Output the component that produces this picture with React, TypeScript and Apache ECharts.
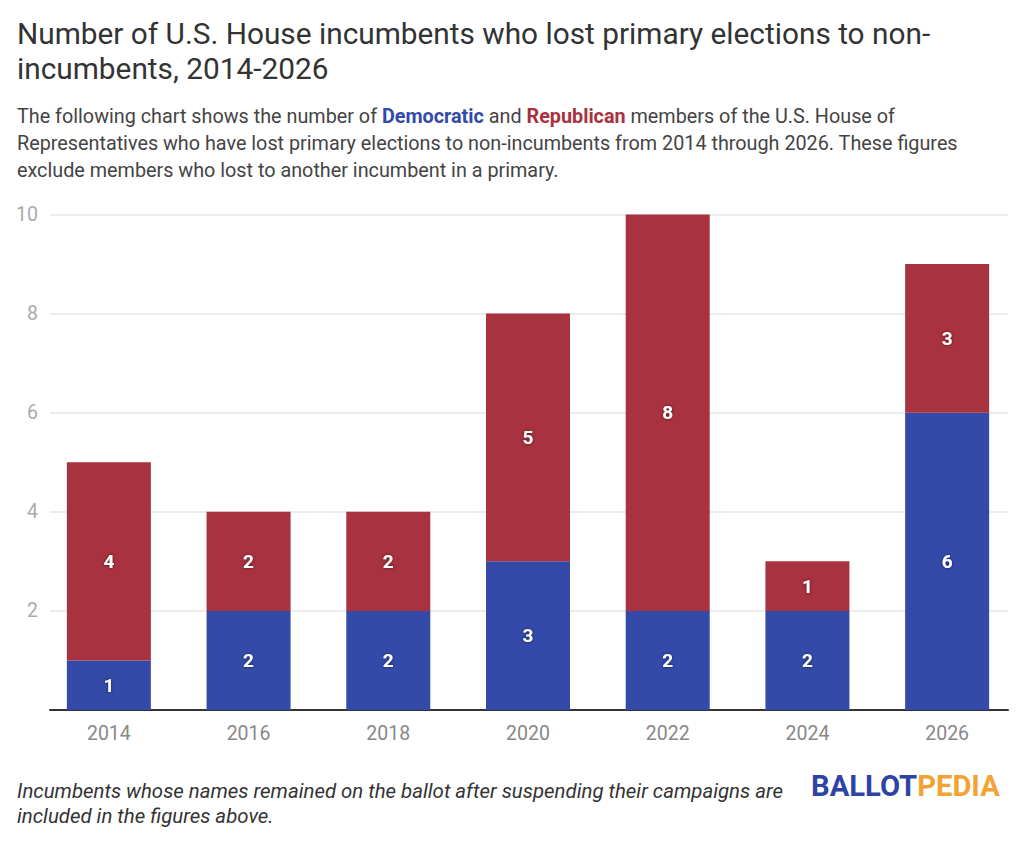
import { useEffect, useRef } from 'react';
import * as echarts from 'echarts';

const years = ['2014', '2016', '2018', '2020', '2022', '2024', '2026'];
const democratic = [1, 2, 2, 3, 2, 2, 6];
const republican = [4, 2, 2, 5, 8, 1, 3];
const yTicks = [0, 2, 4, 6, 8, 10];

const FONT = 'Roboto, "Noto Sans", sans-serif';
const BLUE = '#334aa8';
const RED = '#a8323f';

export default function App() {
  const chartRef = useRef<HTMLDivElement>(null);

  useEffect(() => {
    if (!chartRef.current) return;
    const chart = echarts.init(chartRef.current, undefined, { renderer: 'svg' });

    const barLabel = {
      show: true,
      position: 'inside' as const,
      color: '#fff',
      fontFamily: FONT,
      fontWeight: 'bold' as const,
      fontSize: 19,
      textShadowColor: 'rgba(0,0,0,0.6)',
      textShadowBlur: 3,
    };

    const yMin = yTicks[0];
    const yMax = yTicks[yTicks.length - 1];

    const option: echarts.EChartsOption = {
      animation: false,
      backgroundColor: '#fff',
      textStyle: { fontFamily: FONT },
      title: {
        text: 'Number of U.S. House incumbents who lost primary elections to non-\nincumbents, 2014-2026',
        left: 12,
        top: 11,
        textStyle: {
          color: '#333',
          fontSize: 29.8,
          fontWeight: 'normal',
          lineHeight: 35,
          fontFamily: FONT,
        },
      },
      graphic: [
        {
          type: 'text',
          left: 17,
          top: 103,
          style: {
            text:
              'The following chart shows the number of {d|Democratic} and {r|Republican} members of the U.S. House of\nRepresentatives who have lost primary elections to non-incumbents from 2014 through 2026. These figures\nexclude members who lost to another incumbent in a primary.',
            fill: '#444',
            font: `19.8px ${FONT}`,
            lineHeight: 27,
            rich: {
              d: { fill: BLUE, fontWeight: 'bold', fontSize: 19.8, fontFamily: FONT, lineHeight: 27 },
              r: { fill: RED, fontWeight: 'bold', fontSize: 19.8, fontFamily: FONT, lineHeight: 27 },
            },
          },
        },
        {
          type: 'text',
          left: 17,
          top: 778,
          style: {
            text: 'Incumbents whose names remained on the ballot after suspending their campaigns are\nincluded in the figures above.',
            fill: '#333',
            font: `italic 20.4px ${FONT}`,
            lineHeight: 25,
          },
        },
        {
          type: 'text',
          left: 811,
          top: 771,
          style: {
            text: '{a|BALLOT}{b|PEDIA}',
            rich: {
              a: { fill: '#2d44a6', fontWeight: 'bold', fontSize: 29.2, fontFamily: FONT },
              b: { fill: '#f3a333', fontWeight: 'bold', fontSize: 29.2, fontFamily: FONT },
            },
          },
        },
      ],
      grid: [
        // gridlines, value labels and baseline
        { left: 50, right: 16, top: 214.5, bottom: 134 },
        // bars and year labels
        { left: 39, right: 7, top: 214.5, bottom: 134 },
      ],
      xAxis: [
        {
          type: 'value',
          gridIndex: 0,
          min: 0,
          max: 1,
          splitLine: { show: false },
          axisTick: { show: false },
          axisLabel: { show: false },
          axisLine: { show: true, onZero: false, lineStyle: { color: '#333', width: 2 } },
        },
        {
          type: 'category',
          gridIndex: 1,
          data: years,
          axisLine: { show: false },
          axisTick: { show: false },
          axisLabel: { color: '#888', fontSize: 19.5, margin: 13, fontFamily: FONT },
        },
      ],
      yAxis: [
        {
          type: 'value',
          gridIndex: 0,
          min: yMin,
          max: yMax,
          interval: 2,
          axisLine: { show: false },
          axisTick: { show: false },
          axisLabel: {
            color: '#aaa',
            fontSize: 19.5,
            margin: 12,
            fontFamily: FONT,
            formatter: (v: number) => (v === 0 ? '' : String(v)),
          },
          splitLine: { lineStyle: { color: '#e6e6e6', width: 1.5 } },
        },
        {
          type: 'value',
          gridIndex: 1,
          min: yMin,
          max: yMax,
          interval: 2,
          axisLine: { show: false },
          axisTick: { show: false },
          axisLabel: { show: false },
          splitLine: { show: false },
        },
      ],
      series: [
        {
          name: 'Democratic',
          type: 'bar',
          stack: 'total',
          xAxisIndex: 1,
          yAxisIndex: 1,
          barWidth: 84,
          data: democratic,
          itemStyle: { color: BLUE },
          label: barLabel,
        },
        {
          name: 'Republican',
          type: 'bar',
          stack: 'total',
          xAxisIndex: 1,
          yAxisIndex: 1,
          barWidth: 84,
          data: republican,
          itemStyle: { color: RED },
          label: barLabel,
        },
      ],
    };

    chart.setOption(option);
    return () => {
      chart.dispose();
    };
  }, []);

  return (
    <div
      ref={chartRef}
      style={{ position: 'fixed', left: 0, top: 0, width: 1024, height: 844 }}
    />
  );
}
